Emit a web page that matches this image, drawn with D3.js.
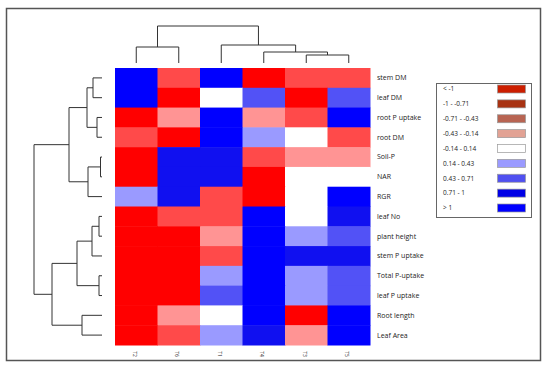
<!DOCTYPE html>
<html><head><meta charset="utf-8">
<script src="https://cdn.jsdelivr.net/npm/d3@7"></script>
<style>body{margin:0;background:#fff;}svg{display:block;}</style>
</head><body>
<svg id="c" width="550" height="367"></svg>
<script>
const columns = ["T2","T6","T1","T4","T3","T5"];
const rows = ["stem DM","leaf DM","root P uptake","root DM","Soil-P","NAR","RGR","leaf No","plant height","stem P uptake","Total P-uptake","leaf P uptake","Root length","Leaf Area"];
const values = [
  [1.2,-0.6,1.2,-1.2,-0.6,-0.6],
  [1.2,-1.2,0,0.6,-1.2,0.6],
  [-1.2,-0.3,1.2,-0.3,-0.6,1.2],
  [-0.6,-1.2,1.2,0.3,0,-0.6],
  [-1.2,0.85,0.85,-0.6,-0.3,-0.3],
  [-1.2,0.85,0.85,-1.2,0,0],
  [0.3,0.85,-0.6,-1.2,0,1.2],
  [-1.2,-0.6,-0.6,1.2,0,0.85],
  [-1.2,-1.1,-0.3,1.2,0.3,0.6],
  [-1.2,-1.1,-0.6,1.2,0.85,0.85],
  [-1.2,-1.2,0.3,1.2,0.3,0.6],
  [-1.2,-1.2,0.6,1.2,0.3,0.6],
  [-1.2,-0.3,0,1.2,-1.2,1.2],
  [-1.2,-0.6,0.3,0.85,-0.3,1.2]
];
const legendLabels = ["< -1","-1 - -0.71","-0.71 - -0.43","-0.43 - -0.14","-0.14 - 0.14","0.14 - 0.43","0.43 - 0.71","0.71 - 1","> 1"];
const thresholds = [-1,-0.71,-0.43,-0.14,0.14,0.43,0.71,1];
const cellColors = ["#ff0000","#ff1e1e","#ff4a4a","#ff9494","#ffffff","#9a9aff","#5252f6","#1010f0","#0000ff"];
const legendColors = ["#cc1e00","#a83212","#b86452","#e2a294","#ffffff","#9a9aff","#5050f0","#0000e6","#0000ff"];
// dendrograms: [left, right, merge height]
const colTreeDef = [["T2","T6",1.6],["T1",["T4",["T3","T5",0.8],1.1],1.8],3.7];
const rowTreeDef = [
  [
    [["stem DM","leaf DM",0.9],["root P uptake","root DM",0.5],1.5],
    [["Soil-P","NAR",0.15],"RGR",1.4],
    3.3
  ],
  [
    [[["leaf No","plant height",0.3],"stem P uptake",1.0],["Total P-uptake","leaf P uptake",0.3],2.5],
    ["Root length","Leaf Area",2.0],
    5.0
  ],
  6.8
];

const svg = d3.select("#c");
svg.append("rect").attr("x",6.5).attr("y",8.5).attr("width",534).attr("height",352)
  .attr("fill","#fff").attr("stroke","#555").attr("stroke-width",1.5);

const x = d3.scaleBand().domain(columns).range([115,370]);
const y = d3.scaleBand().domain(rows).range([68,345]);
const color = d3.scaleThreshold().domain(thresholds).range(cellColors);

const cells = [];
values.forEach((r,i)=>r.forEach((v,j)=>cells.push({row:rows[i],col:columns[j],v})));
svg.append("g").selectAll("rect").data(cells).join("rect")
  .attr("x",d=>x(d.col)).attr("y",d=>y(d.row))
  .attr("width",x.bandwidth()+0.5).attr("height",y.bandwidth()+0.5)
  .attr("fill",d=>color(d.v));

svg.append("g").selectAll("text").data(rows).join("text")
  .attr("x",377).attr("y",d=>y(d)+y.bandwidth()/2).attr("dy","0.35em")
  .attr("font-family","'Open Sans', sans-serif").attr("font-size",7).attr("fill","#222")
  .text(d=>d);

svg.append("g").selectAll("text").data(columns).join("text")
  .attr("transform",d=>`translate(${x(d)+x.bandwidth()/2-2},354) rotate(90)`)
  .attr("text-anchor","middle").attr("dy","0.35em")
  .attr("font-family","'Open Sans', sans-serif").attr("font-size",5).attr("fill","#222")
  .text(d=>d);

function layout(node, pos){
  if(typeof node === "string") return {p:pos(node), h:0, segs:[]};
  const a = layout(node[0],pos), b = layout(node[1],pos);
  return {p:(a.p+b.p)/2, h:node[2], segs:[...a.segs,...b.segs,{a,b,h:node[2]}]};
}
const line = d3.line();
const dg = svg.append("g").attr("fill","none").attr("stroke","#333").attr("stroke-width",1);

const colH = d3.scaleLinear().domain([0,3.7]).range([63,26]);
const colRes = layout(colTreeDef, c=>x(c)+x.bandwidth()/2);
colRes.segs.forEach(s=>{
  dg.append("path").attr("d",line([[s.a.p,colH(s.a.h)],[s.a.p,colH(s.h)],[s.b.p,colH(s.h)],[s.b.p,colH(s.b.h)]]));
});

const rowH = d3.scaleLinear().domain([0,6.8]).range([102,34]);
const rowRes = layout(rowTreeDef, r=>y(r)+y.bandwidth()/2);
rowRes.segs.forEach(s=>{
  dg.append("path").attr("d",line([[rowH(s.a.h),s.a.p],[rowH(s.h),s.a.p],[rowH(s.h),s.b.p],[rowH(s.b.h),s.b.p]]));
});

const lg = svg.append("g");
lg.append("rect").attr("x",436.5).attr("y",83.5).attr("width",95).attr("height",134)
  .attr("fill","#fff").attr("stroke","#666").attr("stroke-width",1);
const ly = d3.scalePoint().domain(legendLabels).range([89,208]);
lg.selectAll("text").data(legendLabels).join("text")
  .attr("x",443).attr("y",d=>ly(d)).attr("dy","0.35em")
  .attr("font-family","'Open Sans', sans-serif").attr("font-size",6.5).attr("fill","#222")
  .text(d=>d);
lg.selectAll("rect.sw").data(legendLabels).join("rect").attr("class","sw")
  .attr("x",497.5).attr("y",d=>ly(d)-4).attr("width",28).attr("height",8)
  .attr("fill",(d,i)=>legendColors[i]).attr("stroke","#999").attr("stroke-width",0.7);
</script>
</body></html>
